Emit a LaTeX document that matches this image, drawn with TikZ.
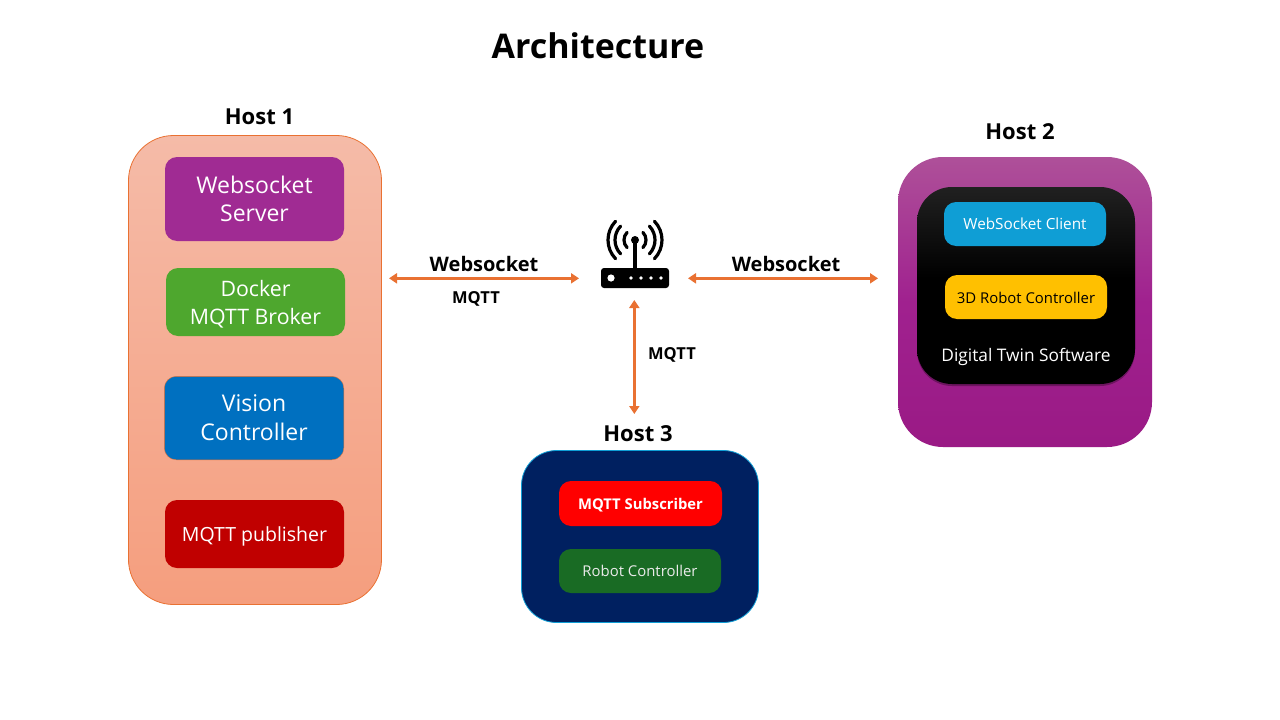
\documentclass[tikz,border=0pt]{standalone}
\usepackage{fontspec}
\setmainfont{Open Sans}
\usetikzlibrary{arrows.meta,shadows}
\newcommand{\fs}[1]{\fontsize{#1}{#1}\selectfont}
\newcommand{\nudge}[2]{\raisebox{#1}[\height][\depth]{#2}}
\definecolor{arrowor}{HTML}{E97132}
\definecolor{hAtop}{HTML}{F5BBA8}
\definecolor{hAbot}{HTML}{F59E7E}
\definecolor{hBtop}{HTML}{AE5099}
\definecolor{hBmid}{HTML}{A0218F}
\definecolor{hBbot}{HTML}{9A1A85}
\definecolor{softtop}{HTML}{444444}
\definecolor{navy}{HTML}{002060}
\definecolor{skyb}{HTML}{0F9ED5}
\definecolor{purp}{HTML}{A02B93}
\definecolor{grn}{HTML}{4EA72E}
\definecolor{blu}{HTML}{0070C0}
\definecolor{crim}{HTML}{C00000}
\definecolor{amber}{HTML}{FFC000}
\definecolor{dgrn}{HTML}{196B24}
\pgfdeclareverticalshading{softblack}{100bp}{color(0bp)=(black); color(52bp)=(black); color(100bp)=(softtop)}
\tikzset{
  hostbox/.style n args={3}{rounded corners=#3,inner sep=0pt,outer sep=0pt,minimum width=#1,minimum height=#2,anchor=north west},
  inbox/.style n args={3}{fill=#3,rounded corners=12pt,inner sep=0pt,outer sep=0pt,minimum width=#1,minimum height=#2,text=white,align=center,anchor=north west},
  lab/.style={inner sep=0pt,align=center,text=black},
  blab/.style={lab,font=\bfseries\fs{22}},
  linklab/.style={lab,font=\bfseries\fs{20}},
  link/.style={draw=arrowor,line width=2.7pt,{Triangle[width=10pt,length=8pt]}-{Triangle[width=10pt,length=8pt]}},
  antarc/.style={draw=black,line width=3.2pt,line cap=round},
}
\begin{document}
\begin{tikzpicture}[x=1pt,y=-1pt]
\useasboundingbox (0,0) rectangle (1280,720);
\fill[white] (0,0) rectangle (1280,720);
\node[lab,font=\bfseries\fs{34}] (title) at (598,46) {Architecture};
% Host 1
\node[blab] (h1l) at (259.5,117) {Host 1};
\node[hostbox={253pt}{469pt}{45pt},draw=arrowor,line width=0.8pt,top color=hAtop,bottom color=hAbot] (host1) at (128.5,135.5) {};
\node[inbox={179pt}{84pt}{purp},font=\fs{23}] (wss) at (165,157) {\nudge{0pt}{Websocket}\\[5pt]\nudge{0.5pt}{Server}};
\node[inbox={179pt}{68pt}{grn},font=\fs{21.3}] (broker) at (166,268) {\nudge{-2pt}{Docker}\\[7pt]\nudge{-2pt}{MQTT Broker}};
\node[inbox={179.5pt}{83.5pt}{blu},draw=arrowor,line width=0.4pt,font=\fs{23}] (vision) at (164.3,376.3) {\nudge{1pt}{Vision}\\[5.5pt]\nudge{0pt}{Controller}};
\node[inbox={179pt}{68pt}{crim},font=\fs{19.5}] (pub) at (165,500) {\nudge{-2pt}{MQTT publisher}};
% Host 2
\node[blab] (h2l) at (1020,132) {Host 2};
\node[hostbox={254pt}{290pt}{45pt},top color=hBtop,bottom color=hBbot,middle color=hBmid] (host2) at (898,157) {};
\node[hostbox={218pt}{197pt}{35pt},shade,shading=softblack,text=white,drop shadow={shadow xshift=0pt,shadow yshift=-2pt,opacity=0.3,fill=black}] (twin) at (917,187) {};
\node[inbox={162pt}{44pt}{skyb},font=\fs{15.3}] (wsc) at (944,202) {WebSocket Client};
\node[inbox={162pt}{44pt}{amber},text=black,font=\fs{14.9}] (rc3d) at (945,275) {\nudge{-1pt}{3D Robot Controller}};
\node[lab,text=white,font=\fs{17.3}] (dts) at (1026,357) {Digital Twin Software};
% Host 3
\node[blab] (h3l) at (638,434) {Host 3};
\node[hostbox={237pt}{172pt}{35pt},fill=navy,draw=skyb,line width=0.8pt] (host3) at (521.5,450.5) {};
\node[inbox={163pt}{45pt}{red},font=\bfseries\fs{14.8}] (sub) at (559,481) {\nudge{-2pt}{MQTT Subscriber}};
\node[inbox={162pt}{44pt}{dgrn},font=\fs{14.9},text=white!92!black] (rob) at (559,549) {Robot Controller};
% Router icon
\node[fill=black,rounded corners=3pt,inner sep=0pt,outer sep=0pt,minimum width=68pt,minimum height=20pt,anchor=north west] (router) at (601,268) {};
\draw[black,line width=3.4pt] (635,240) -- (635,268);
\fill[black] (635,240) circle (4pt);
\foreach \r in {11,20,27}{
  \draw[antarc] (635,240) ++(-44:\r) arc (-44:44:\r);
  \draw[antarc] (635,240) ++(136:\r) arc (136:224:\r);
}
\fill[white] (611,278) circle (3.6pt);
\foreach \x in {631,641,651,661}{\fill[white] (\x,278) circle (1.8pt);}
% Connectors
\coordinate (a1) at (389,278.3); \coordinate (a2) at (579,278.3);
\coordinate (b1) at (688,278.3); \coordinate (b2) at (878,278.3);
\coordinate (c1) at (634.3,300); \coordinate (c2) at (634.3,414);
\draw[link] (a1) -- (a2);
\draw[link] (b1) -- (b2);
\draw[link] (c1) -- (c2);
\node[linklab] (w1) at (484,263.8) {Websocket};
\node[lab,font=\bfseries\fs{16.5}] (m1) at (476,299) {MQTT};
\node[linklab] (w2) at (786,263.8) {Websocket};
\node[lab,font=\bfseries\fs{16.5}] (m2) at (672,355) {MQTT};
\end{tikzpicture}
\end{document}
